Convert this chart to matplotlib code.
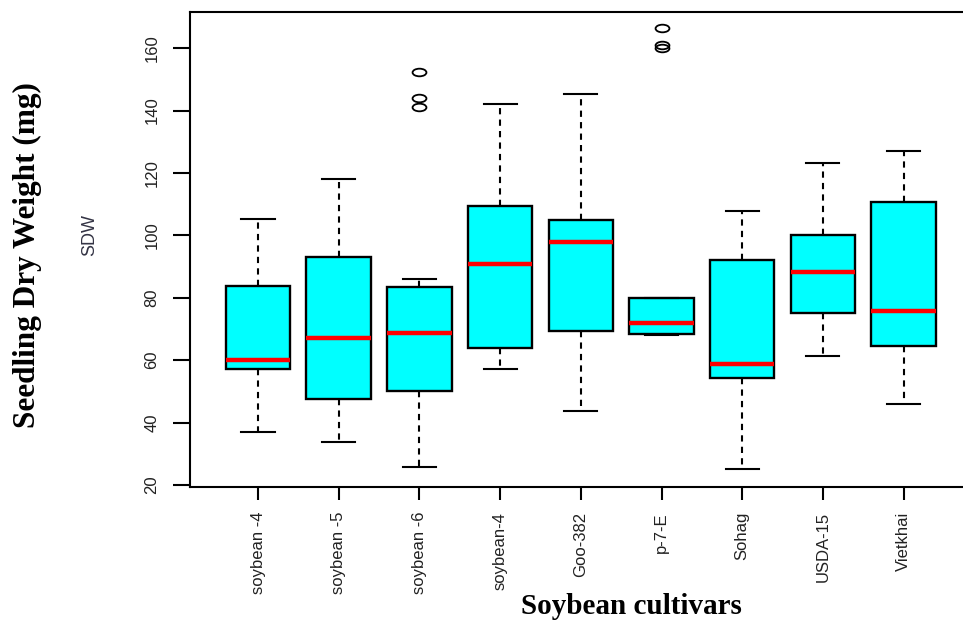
import numpy as np
import matplotlib
matplotlib.use("Agg")
import matplotlib.pyplot as plt
from matplotlib.path import Path
from matplotlib.transforms import Affine2D

# 品種と箱ひげ図の統計量
cultivars = ["soybean -4", "soybean -5", "soybean -6", "soybean-4", "Goo-382",
             "p-7-E", "Sohag", "USDA-15", "Vietkhai"]
whislo = [36.9, 33.8, 25.9, 57.1, 43.8, 68.1, 25.0, 61.3, 46.0]
q1 = [57.1, 47.5, 50.0, 64.0, 69.4, 68.5, 54.4, 75.0, 64.4]
med = [60.1, 67.0, 68.8, 90.7, 97.8, 71.9, 58.8, 88.2, 75.9]
q3 = [83.8, 93.0, 83.4, 109.5, 104.8, 79.8, 92.1, 100.0, 110.6]
whishi = [105.3, 118.0, 86.0, 142.1, 145.2, 79.8, 107.8, 123.2, 127.2]
fliers = [[], [], [152.3, 144.0, 141.2], [], [], [166.4, 161.0, 160.2], [], [], []]
yticks = [20, 40, 60, 80, 100, 120, 140, 160]

stats = []
for i in range(len(cultivars)):
    stats.append({"whislo": whislo[i], "q1": q1[i], "med": med[i], "q3": q3[i],
                  "whishi": whishi[i], "fliers": fliers[i]})

W, H = 963, 620
fig = plt.figure(figsize=(W / 100, H / 100), dpi=100)
# 軸の位置（ピクセル単位）
left, right, top, bottom = 190, 975, 12, 487
ax = fig.add_axes([left / W, 1 - bottom / H, (right - left) / W, (bottom - top) / H])

pos = np.arange(1, len(cultivars) + 1)
ax.bxp(stats, positions=pos, widths=0.8,
       patch_artist=True, showfliers=False,
       boxprops=dict(facecolor="cyan", edgecolor="black", linewidth=1.7),
       medianprops=dict(color="red", linewidth=3.2, solid_capstyle="butt"),
       whiskerprops=dict(color="black", linewidth=1.5, linestyle=(0, (3, 2.5))),
       capprops=dict(color="black", linewidth=1.5),
       capwidths=0.41)

# 外れ値（横長の楕円）
ell = Path.unit_circle().transformed(Affine2D().scale(1.0, 0.55))
for p, f in zip(pos, fliers):
    if f:
        ax.plot([p] * len(f), f, linestyle="none", marker=ell, markersize=10,
                markerfacecolor="none", markeredgecolor="black", markeredgewidth=1.3)

ax.set_xlim(0.157, 9.885)
ax.set_ylim(19.36, 171.6)

for s in ax.spines.values():
    s.set_linewidth(1.5)

fam = ["Liberation Sans Narrow", "Liberation Sans", "DejaVu Sans"]
ax.set_yticks(yticks)
ax.set_yticklabels([str(v) for v in yticks], rotation=90, va="center",
                   family=fam, fontsize=12, color="#222222")
ax.tick_params(axis="y", length=12, width=1.5, pad=10)
ax.set_xticks(pos)
ax.set_xticklabels(cultivars, rotation=90, family=fam, fontsize=12, color="#222222")
ax.tick_params(axis="x", length=9, width=1.5, pad=9)

fig.text(90 / W, 1 - 235 / H, "SDW", rotation=90, ha="center", va="center",
         family=fam, fontsize=13, color="#333344")
fig.text(27 / W, 1 - 255 / H, "Seedling Dry Weight (mg)", rotation=90,
         ha="center", va="center", family=["Liberation Serif", "DejaVu Serif"],
         fontweight="bold", fontsize=22.5)
fig.text(631 / W, 1 - 606 / H, "Soybean cultivars", ha="center", va="center",
         family=["Liberation Serif", "DejaVu Serif"], fontweight="bold", fontsize=21)

fig.savefig("out.png", dpi=100)
